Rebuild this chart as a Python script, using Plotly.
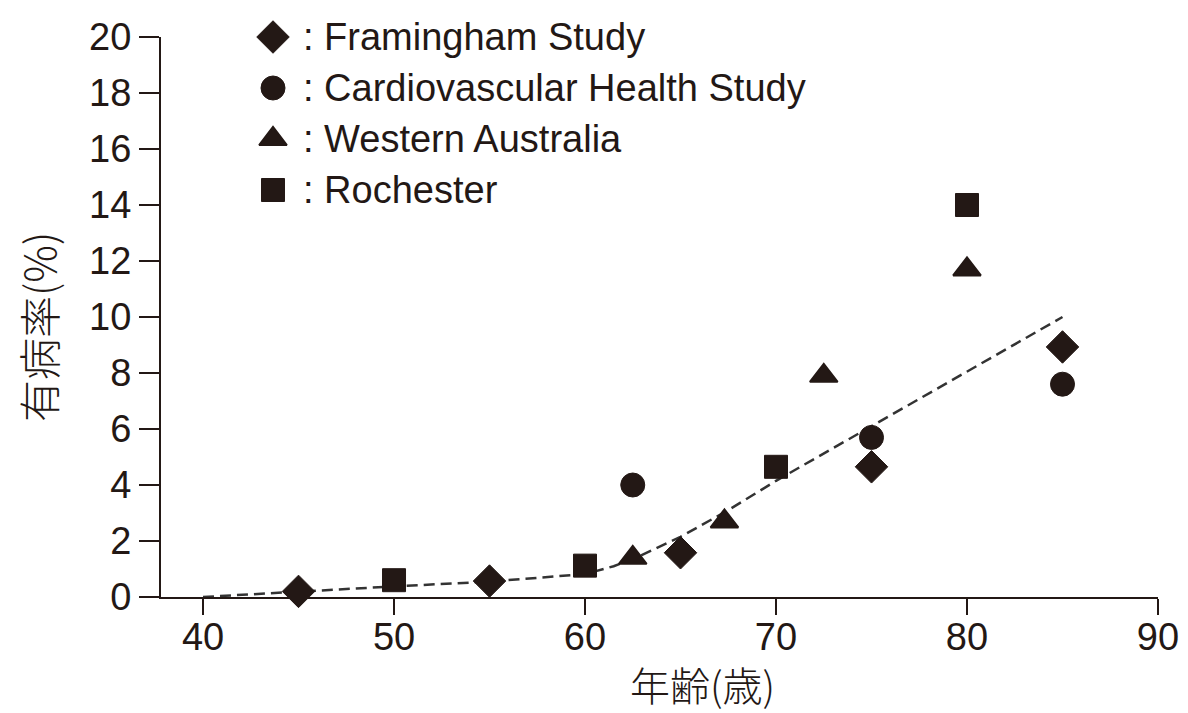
import plotly.graph_objects as go

# Prevalence (%) by age (years) for four population studies
fram_age = [45, 55, 65, 75, 85]
fram_prev = [0.2, 0.57, 1.58, 4.65, 8.93]

chs_age = [62.5, 75, 85]
chs_prev = [4.0, 5.7, 7.6]

wa_age = [62.5, 67.3, 72.5, 80]
wa_prev = [1.4, 2.7, 7.9, 11.7]

roch_age = [50, 60, 70, 80]
roch_prev = [0.6, 1.12, 4.65, 14.0]

# Overall trend line
trend_age = [40, 45, 50, 55, 60, 61.5, 62.5, 65, 67.5, 70, 75, 80, 85]
trend_prev = [0.0, 0.2, 0.38, 0.55, 0.82, 1.1, 1.35, 2.15, 3.1, 4.15, 6.1, 8.05, 10.0]

# Legend entries
legend_names = ["Framingham Study", "Cardiovascular Health Study", "Western Australia", "Rochester"]
legend_symbols = ["diamond", "circle", "triangle-up", "square"]

x_ticks = [40, 50, 60, 70, 80, 90]
y_ticks = [0, 2, 4, 6, 8, 10, 12, 14, 16, 18, 20]

INK = "#231815"
LATIN = "Liberation Sans, Arial, sans-serif"
CJK = "Noto Sans CJK JP, Liberation Sans, sans-serif"
W, H = 1188, 713
L, R, T, B = 161, 30, 37, 116
PW, PH = W - L - R, H - T - B


def px(x):
    return (x - L) / PW


def py(y):
    return (T + PH - y) / PH


sizes = {"diamond": 25, "circle": 24, "triangle-up": 24, "square": 23}
edge = {"diamond": 1, "circle": 1, "triangle-up": 2, "square": 1}

fig = go.Figure()

fig.add_trace(go.Scatter(
    x=trend_age, y=trend_prev, mode="lines",
    line=dict(color="#333333", width=2.5, dash="11px,6px"),
    hoverinfo="skip", showlegend=False,
))

series = [
    (fram_age, fram_prev, "diamond"),
    (chs_age, chs_prev, "circle"),
    (wa_age, wa_prev, "triangle-up"),
    (roch_age, roch_prev, "square"),
]
for (xs, ys, sym), name in zip(series, legend_names):
    fig.add_trace(go.Scatter(
        x=xs, y=ys, mode="markers", name=name,
        marker=dict(symbol=sym, size=sizes[sym], color=INK,
                    line=dict(width=edge[sym], color=INK)),
        cliponaxis=False, showlegend=False,
    ))

# Legend keys on a pixel-scaled overlay axis
key_x = 273
row_y = [37 + 51 * i for i in range(len(legend_names))]
for sym, ry in zip(legend_symbols, row_y):
    fig.add_trace(go.Scatter(
        x=[key_x], y=[ry], xaxis="x2", yaxis="y2", mode="markers",
        marker=dict(symbol=sym, size=sizes[sym], color=INK,
                    line=dict(width=edge[sym], color=INK)),
        cliponaxis=False, showlegend=False, hoverinfo="skip",
    ))

annotations = []
for name, ry in zip(legend_names, row_y):
    annotations.append(dict(
        x=px(301), y=py(ry), xref="paper", yref="paper",
        text=": " + name, showarrow=False, xanchor="left", yanchor="middle",
        font=dict(family=LATIN, size=38, color=INK),
    ))

annotations.append(dict(
    x=px(702), y=py(684), xref="paper", yref="paper", text="年齢(歳)",
    showarrow=False, xanchor="center", yanchor="middle",
    font=dict(family=CJK, size=40, color=INK, weight=300),
))
annotations.append(dict(
    x=px(38), y=py(327), xref="paper", yref="paper", text="有病率(%)",
    showarrow=False, xanchor="center", yanchor="middle", textangle=-90,
    font=dict(family=CJK, size=42, color=INK, weight=300),
))

axis_common = dict(
    showgrid=False, zeroline=False, showline=True, linewidth=2,
    linecolor=INK, ticks="outside", tickwidth=2, tickcolor=INK,
    tickfont=dict(family=LATIN, size=38, color=INK),
    automargin=False,
)

fig.update_layout(
    width=W, height=H,
    margin=dict(l=L, r=R, t=T, b=B),
    paper_bgcolor="white", plot_bgcolor="white",
    showlegend=False,
    xaxis=dict(range=[37.8, 90], tickvals=x_ticks, ticklen=16,
               ticklabelstandoff=-11, **axis_common),
    yaxis=dict(range=[0, 20], tickvals=y_ticks, ticklen=20, **axis_common),
    xaxis2=dict(range=[L, L + PW], overlaying="x", visible=False, anchor="y2"),
    yaxis2=dict(range=[T + PH, T], overlaying="y", visible=False, anchor="x2"),
    annotations=annotations,
)

fig.write_html("out.html")
